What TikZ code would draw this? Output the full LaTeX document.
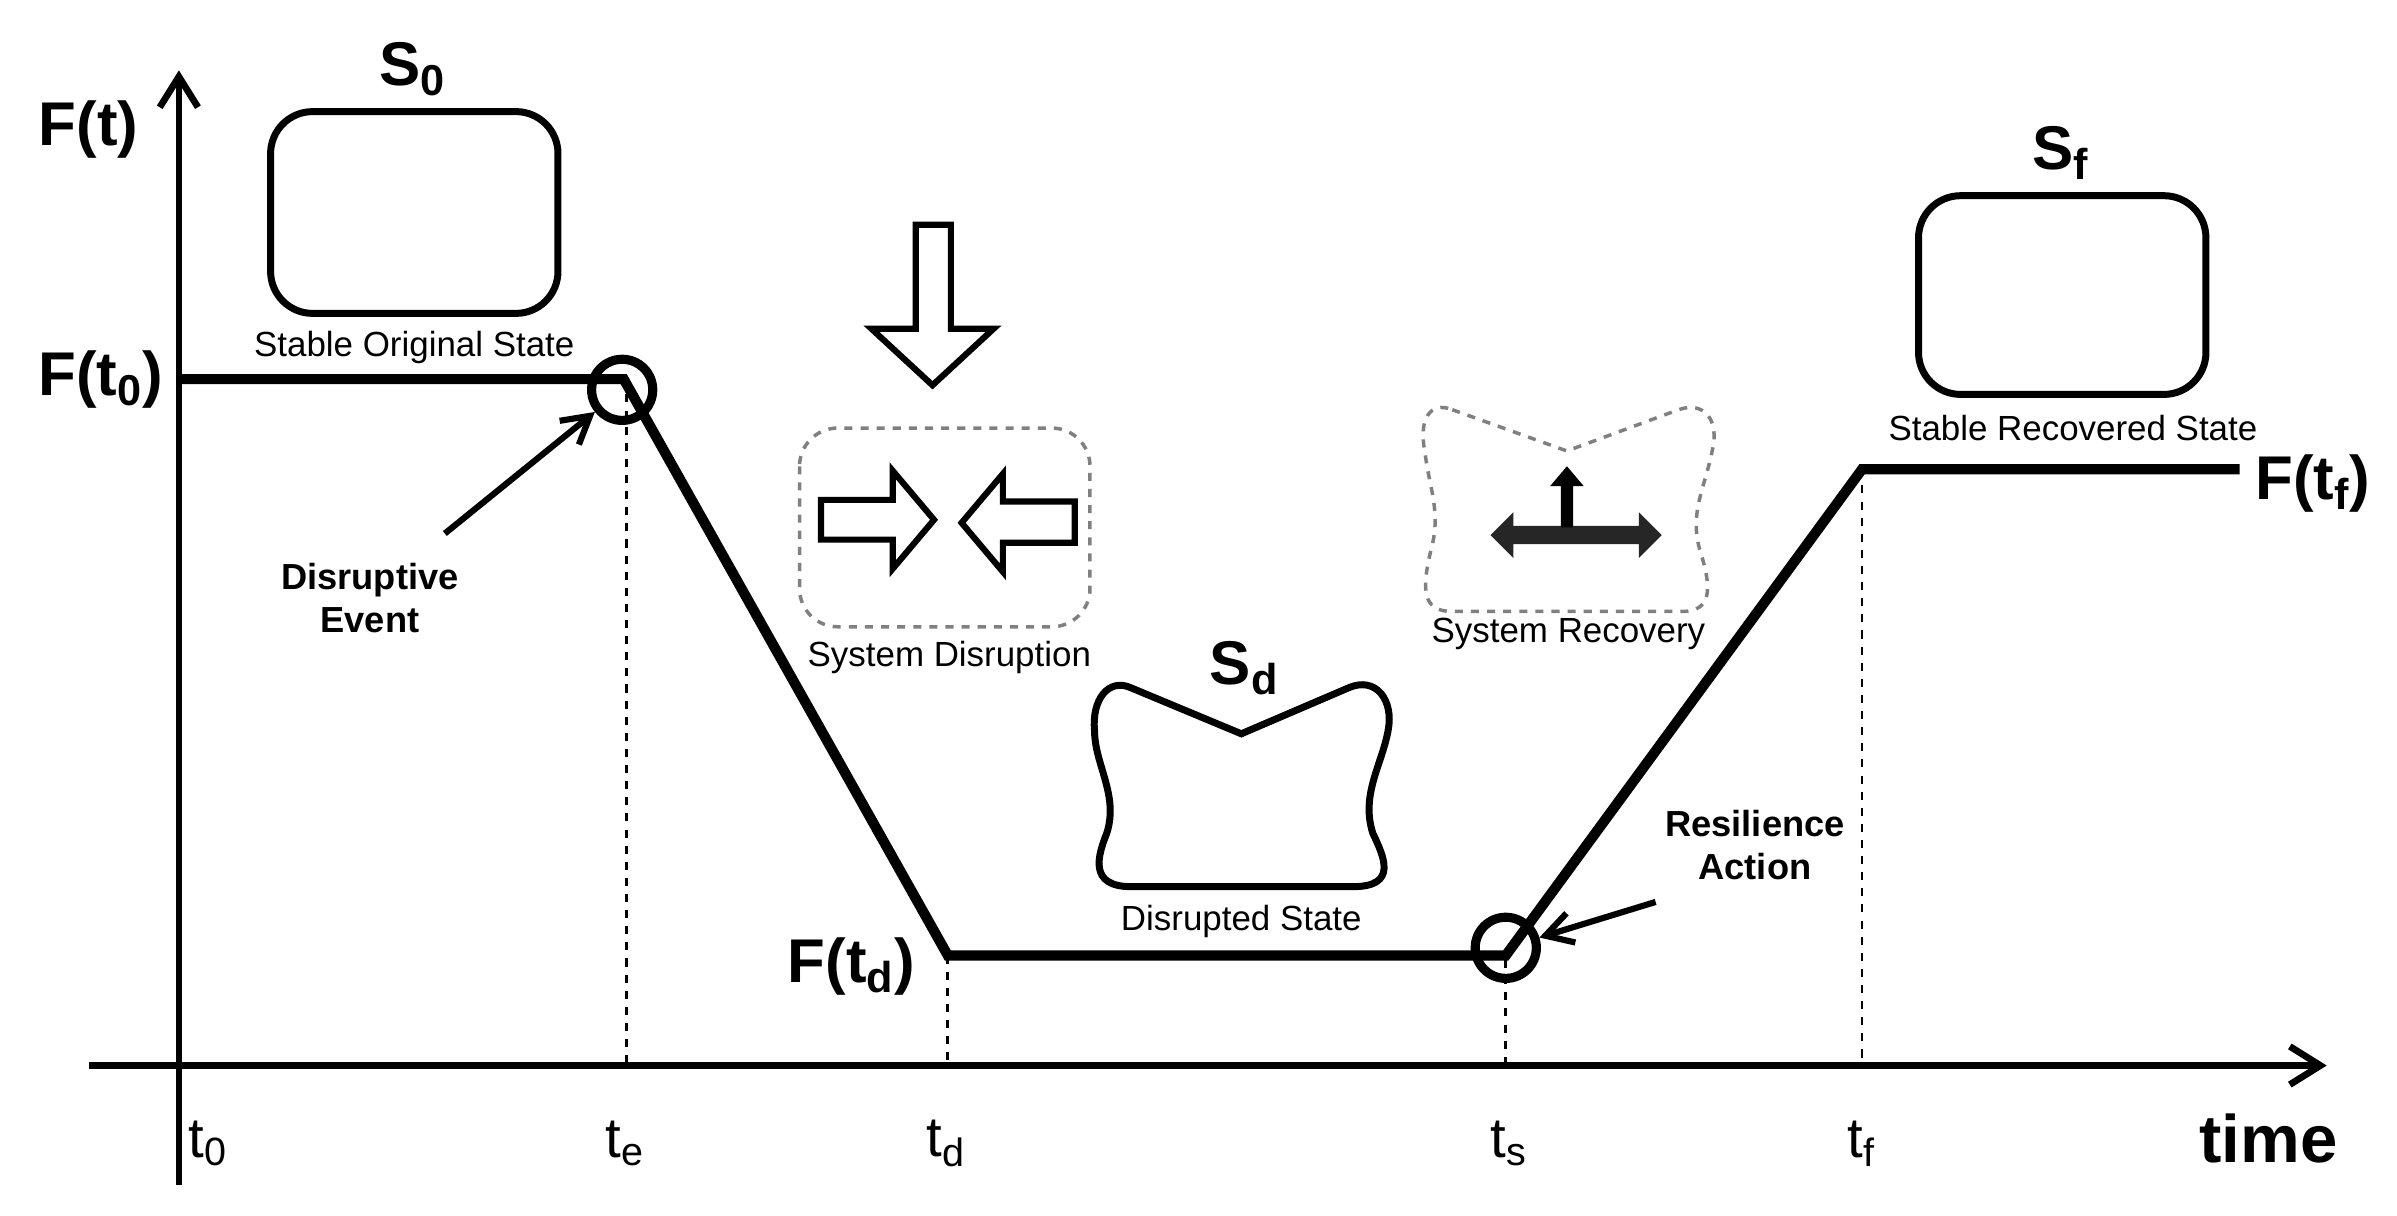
\documentclass[tikz,border=0pt]{standalone}
\usepackage{fontspec}
\setmainfont{Liberation Sans}
\usetikzlibrary{arrows.meta}
\begin{document}
\begin{tikzpicture}[x=0.02cm,y=-0.02cm,
  axis/.style={line width=2.5pt,-{Straight Barb[length=4mm,width=5mm,line width=2.5pt]}},
  curve/.style={line width=3.8pt,line join=miter},
  guide/.style={dashed,line width=1pt},
  box/.style={line width=2.6pt,rounded corners=0.55cm},
  big/.style={font=\fontsize{23}{25}\selectfont\bfseries},
  tl/.style={font=\fontsize{21}{24}\selectfont},
  lbl/.style={font=\fontsize{13}{15}\selectfont},
  bcap/.style={font=\fontsize{13.5}{16}\selectfont\bfseries,align=center},
  outarrow/.style={line width=2.3pt,fill=white,line join=miter},
  dbox/.style={dashed,gray,line width=1.3pt}]
\useasboundingbox (0,0) rectangle (1568,795);
% axes
\coordinate (ybot) at (117,775);
\coordinate (ytop) at (117,46);
\coordinate (xl) at (58,697);
\coordinate (xr) at (1522,697);
\draw[axis] (ybot) -- (ytop);
\draw[axis] (xl) -- (xr);
% curve
\coordinate (p0) at (117,248);
\coordinate (pe) at (408,248);
\coordinate (pd) at (620,625);
\coordinate (ps) at (985,625);
\coordinate (pf) at (1218,307);
\coordinate (pend) at (1465,307);
\draw[curve] (p0) -- (pe) -- (pd) -- (ps) -- (pf) -- (pend);
% guides
\coordinate (ge) at (410,697); \coordinate (gd) at (620,697);
\coordinate (gs) at (985,697); \coordinate (gf) at (1218,697);
\draw[guide] (410,258) -- (ge);
\draw[guide] (pd) -- (gd);
\draw[guide] (985,628) -- (gs);
\draw[guide] (pf) -- (gf);
% circles
\node[circle,draw,line width=3.4pt,minimum size=0.8cm,inner sep=0pt] (ce) at (407,255) {};
\node[circle,draw,line width=3.4pt,minimum size=0.8cm,inner sep=0pt] (cs) at (985,620) {};
% axis labels
\node[big] (Ft) at (58,85) {F(t)};
\node[big] (Ft0) at (66,248) {F(t$_{\mathbf 0}$)};
\node[big] (Ftd) at (557,632) {F(t$_{\mathbf d}$)};
\node[big] (Ftf) at (1513,316) {F(t$_{\mathbf f}$)};
\node[big,font=\fontsize{25}{27}\selectfont\bfseries] (time) at (1484,745) {time};
\node[tl] (t0) at (136,748) {t$_{\mathrm 0}$};
\node[tl] (te) at (409,748) {t$_{\mathrm e}$};
\node[tl] (td) at (619,748) {t$_{\mathrm d}$};
\node[tl] (ts) at (987,748) {t$_{\mathrm s}$};
\node[tl] (tf) at (1218,748) {t$_{\mathrm f}$};
% S0
\draw[box] (177,73) rectangle (365,205);
\node[big] (S0) at (270,45) {S$_{\mathbf 0}$};
\node[lbl] (s0c) at (271,227) {Stable Original State};
% Sf
\draw[box] (1255,128) rectangle (1443,258);
\node[big] (Sf) at (1348,100) {S$_{\mathbf f}$};
\node[lbl] (sfc) at (1356,280) {Stable Recovered State};
% Disruptive event
\node[bcap] (de) at (242,391) {Disruptive\\Event};
\draw[line width=2.3pt,-{Straight Barb[length=3.5mm,width=4mm,line width=2.3pt]}] (291,349) -- (ce);
\node[bcap] (ra) at (1148,553) {Resilience\\Action};
\draw[line width=2.3pt,-{Straight Barb[length=3.5mm,width=4mm,line width=2.3pt]}] (1083,590) -- (cs);
% system disruption
\draw[outarrow] (599,147) -- (622,147) -- (622,215) -- (650,215) -- (610,252) -- (570,215) -- (599,215) -- cycle;
\draw[dbox,rounded corners=0.5cm] (523,280) rectangle (713,410);
\draw[outarrow] (537,327) -- (584,327) -- (584,308) -- (611,340) -- (584,372) -- (584,353) -- (537,353) -- cycle;
\draw[outarrow] (703,328) -- (656,328) -- (656,310) -- (629,342) -- (656,374) -- (656,355) -- (703,355) -- cycle;
\node[lbl] (sdc) at (621,430) {System Disruption};
% disrupted state
\node[big] (Sd) at (814,437) {S$_{\mathbf d}$};
\draw[line width=2.6pt] (740,450) -- (812,480) -- (882,450)
  .. controls (900,442) and (912,458) .. (908,478)
  .. controls (904,500) and (890,520) .. (898,545)
  .. controls (905,560) and (915,580) .. (885,580)
  -- (740,580)
  .. controls (712,580) and (718,560) .. (724,545)
  .. controls (732,520) and (716,500) .. (716,478)
  .. controls (714,458) and (725,443) .. (740,450) -- cycle;
\node[lbl] (dsc) at (812,603) {Disrupted State};
% recovery
\draw[dbox] (950,268) -- (1025,295) -- (1098,268)
  .. controls (1115,262) and (1125,275) .. (1120,295)
  .. controls (1115,320) and (1105,335) .. (1112,360)
  .. controls (1120,385) and (1120,400) .. (1100,400)
  -- (950,400)
  .. controls (930,400) and (930,385) .. (936,360)
  .. controls (943,335) and (935,320) .. (932,295)
  .. controls (928,275) and (935,262) .. (950,268) -- cycle;
\fill[black!85] (975,350) -- (990,335) -- (990,344) -- (1072,344) -- (1072,335) -- (1087,350)
  -- (1072,365) -- (1072,356) -- (990,356) -- (990,365) -- cycle;
\fill[black] (1021,345) -- (1021,318) -- (1014,318) -- (1025,305) -- (1036,318) -- (1029,318) -- (1029,345) -- cycle;
\node[lbl] (src) at (1026,415) {System Recovery};
\end{tikzpicture}
\end{document}
